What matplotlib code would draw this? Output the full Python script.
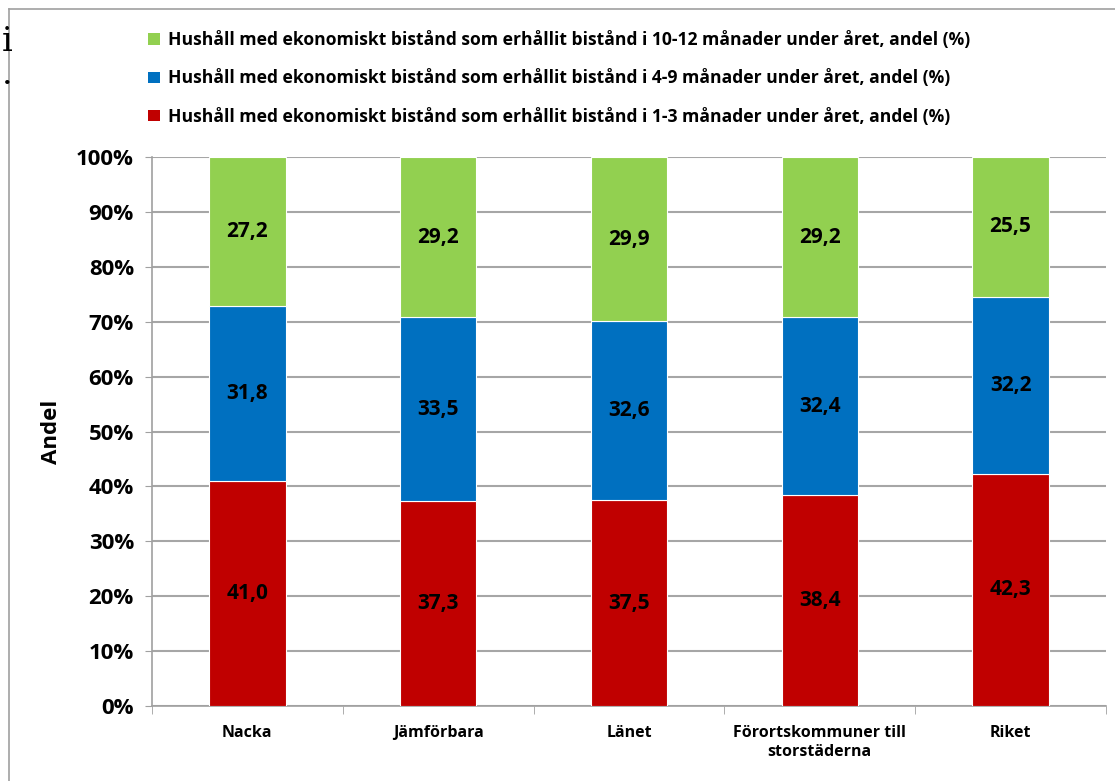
import numpy as np
import matplotlib.pyplot as plt
from matplotlib.lines import Line2D
from matplotlib.patches import Patch

plt.rcParams['font.family'] = ['Open Sans', 'DejaVu Sans']

categories = ['Nacka', 'Jämförbara', 'Länet', 'Förortskommuner till\nstorstäderna', 'Riket']
series_names = [
    'Hushåll med ekonomiskt bistånd som erhållit bistånd i 1-3 månader under året, andel (%)',
    'Hushåll med ekonomiskt bistånd som erhållit bistånd i 4-9 månader under året, andel (%)',
    'Hushåll med ekonomiskt bistånd som erhållit bistånd i 10-12 månader under året, andel (%)',
]
months_1_3 = [41.0, 37.3, 37.5, 38.4, 42.3]
months_4_9 = [31.8, 33.5, 32.6, 32.4, 32.2]
months_10_12 = [27.2, 29.2, 29.9, 29.2, 25.5]
colors = ['#C00000', '#0070C0', '#92D050']

fig = plt.figure(figsize=(11.15, 7.81), dpi=100)
ax = fig.add_axes([0.1363, 0.096, 0.9919 - 0.1363, 0.799 - 0.096])

x = np.arange(len(categories))
bottom = np.zeros(len(categories))
for vals, col in zip([months_1_3, months_4_9, months_10_12], colors):
    vals = np.array(vals)
    ax.bar(x, vals, 0.4, bottom=bottom, color=col, edgecolor='white', linewidth=0.8, zorder=3)
    for xi, b, v in zip(x, bottom, vals):
        ax.text(xi, b + v / 2, f'{v:.1f}'.replace('.', ','), ha='center', va='center',
                fontsize=15, fontweight='bold', color='black', zorder=4)
    bottom += vals

ax.set_xlim(-0.5, len(categories) - 0.5)
ax.set_ylim(0, 100)
ax.set_yticks(np.arange(0, 101, 10))
ax.set_yticklabels([f'{v}%' for v in range(0, 101, 10)], fontsize=16, fontweight='bold')
ax.yaxis.grid(True, color='#A6A6A6', linewidth=1.5, zorder=0)
ax.tick_params(axis='y', length=5, color='#A0A0A0', pad=8)

ax.set_xticks(x)
ax.set_xticklabels(categories, fontsize=11.5, fontweight='bold')
ax.set_xticks(np.arange(-0.5, len(categories)), minor=True)
ax.tick_params(axis='x', which='major', length=0, pad=14)
ax.tick_params(axis='x', which='minor', length=6, color='#A0A0A0')

for s in ['top', 'right']:
    ax.spines[s].set_visible(False)
for s in ['left', 'bottom']:
    ax.spines[s].set_color('#A0A0A0')
    ax.spines[s].set_linewidth(1.2)

ax.set_ylabel('Andel', fontsize=16, fontweight='bold', labelpad=10)

handles = [Patch(facecolor=c) for c in colors[::-1]]
fig.legend(handles, series_names[::-1], loc='upper left', bbox_to_anchor=(0.119, 0.98),
           frameon=False, handlelength=0.65, handleheight=0.65,
           handletextpad=0.45, labelspacing=1.15, prop={'weight': 'bold', 'size': 12.6})

# outer frame of the chart area
fig.add_artist(Line2D([9 / 1115, 9 / 1115], [0, 1 - 9 / 781], color='#A0A0A0', lw=1.2))
fig.add_artist(Line2D([9 / 1115, 1], [1 - 9 / 781, 1 - 9 / 781], color='#A0A0A0', lw=1.2))
fig.text(0.002, 1 - 42 / 781, 'i', family='DejaVu Serif', fontsize=24, va='center')
fig.text(0.002, 1 - 75 / 781, '.', family='DejaVu Serif', fontsize=24, va='center')

fig.savefig('out.png', dpi=100)
